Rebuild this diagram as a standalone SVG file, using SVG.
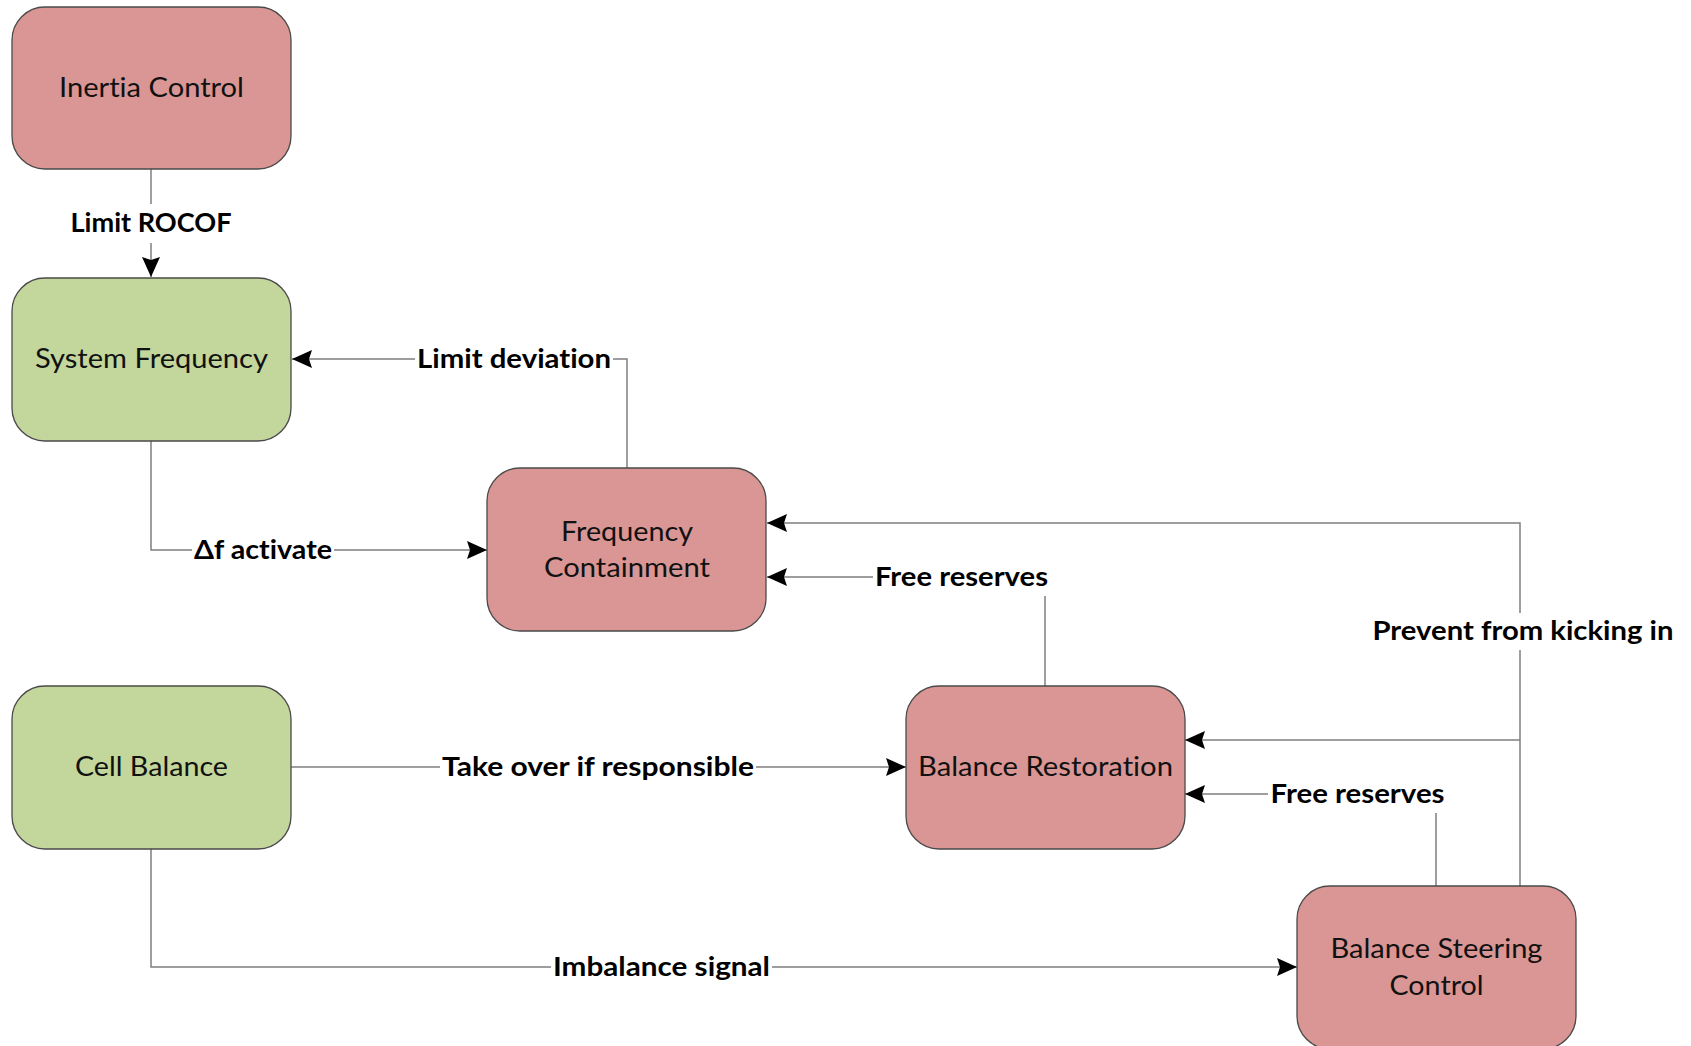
<svg xmlns="http://www.w3.org/2000/svg" width="1691" height="1046" viewBox="0 0 1691 1046">
<style>
.red{fill:#D99694;stroke:#4a4a4a;stroke-width:1.3}
.green{fill:#C3D69B;stroke:#4a4a4a;stroke-width:1.3}
.nt{font-family:Lato,"Open Sans","Liberation Sans",sans-serif;font-size:27px;fill:#111;text-anchor:middle;font-variant-ligatures:none}
.ln{fill:none;stroke:#7f7f7f;stroke-width:1.5}
.lb{font-family:Lato,"Open Sans","Liberation Sans",sans-serif;font-size:27px;font-weight:bold;fill:#000;text-anchor:middle;font-variant-ligatures:none}
.bg{fill:#fff}
</style>
<defs>
<marker id="arr" viewBox="0 0 20 18" refX="20" refY="9" markerWidth="20" markerHeight="18" markerUnits="userSpaceOnUse" orient="auto">
<path d="M0,0 L20,9 L0,18 L3,9 z" fill="#000"/>
</marker>
</defs>
<rect width="1691" height="1046" fill="#fff"/>
<g id="connectors">
<path class="ln" d="M151,169 V277" marker-end="url(#arr)"/>
<path class="ln" d="M627,468 V359 H292" marker-end="url(#arr)"/>
<path class="ln" d="M151,441 V550 H487" marker-end="url(#arr)"/>
<path class="ln" d="M1520,886 V523 H767" marker-end="url(#arr)"/>
<path class="ln" d="M1520,740 H1185" marker-end="url(#arr)"/>
<path class="ln" d="M1045,686 V577 H767" marker-end="url(#arr)"/>
<path class="ln" d="M1436,886 V794 H1185" marker-end="url(#arr)"/>
<path class="ln" d="M291,767 H906" marker-end="url(#arr)"/>
<path class="ln" d="M151,849 V967 H1297" marker-end="url(#arr)"/>
<g id="labels">
<rect class="bg" x="69" y="204" width="164" height="39"/>
<text class="lb" x="151" y="232" textLength="161" lengthAdjust="spacingAndGlyphs">Limit ROCOF</text>
<rect class="bg" x="415" y="344" width="198" height="31"/>
<text class="lb" x="514" y="368" textLength="194" lengthAdjust="spacingAndGlyphs">Limit deviation</text>
<rect class="bg" x="192" y="535" width="142" height="31"/>
<text class="lb" x="263" y="559" textLength="138" lengthAdjust="spacingAndGlyphs">Δf activate</text>
<rect class="bg" x="1370" y="613" width="306" height="37"/>
<text class="lb" x="1523" y="640" textLength="301" lengthAdjust="spacingAndGlyphs">Prevent from kicking in</text>
<rect class="bg" x="873" y="560" width="177" height="36"/>
<text class="lb" x="961.5" y="586" textLength="173" lengthAdjust="spacingAndGlyphs">Free reserves</text>
<rect class="bg" x="1268" y="777" width="179" height="36"/>
<text class="lb" x="1357.5" y="803" textLength="174" lengthAdjust="spacingAndGlyphs">Free reserves</text>
<rect class="bg" x="440" y="752" width="316" height="31"/>
<text class="lb" x="598" y="776" textLength="312" lengthAdjust="spacingAndGlyphs">Take over if responsible</text>
<rect class="bg" x="551" y="952" width="221" height="33"/>
<text class="lb" x="661.5" y="976" textLength="217" lengthAdjust="spacingAndGlyphs">Imbalance signal</text>
</g>
</g>
<g id="inertia-control">
<rect class="red" x="12" y="7" width="279" height="162" rx="33"/>
<text class="nt" x="151.5" y="97" textLength="185" lengthAdjust="spacingAndGlyphs">Inertia Control</text>
</g>
<g id="system-frequency">
<rect class="green" x="12" y="278" width="279" height="163" rx="33"/>
<text class="nt" x="151.5" y="368" textLength="233" lengthAdjust="spacingAndGlyphs">System Frequency</text>
</g>
<g id="frequency-containment">
<rect class="red" x="487" y="468" width="279" height="163" rx="33"/>
<text class="nt" x="627" y="541" textLength="132" lengthAdjust="spacingAndGlyphs">Frequency</text>
<text class="nt" x="627" y="577" textLength="166" lengthAdjust="spacingAndGlyphs">Containment</text>
</g>
<g id="cell-balance">
<rect class="green" x="12" y="686" width="279" height="163" rx="33"/>
<text class="nt" x="151.5" y="776" textLength="153" lengthAdjust="spacingAndGlyphs">Cell Balance</text>
</g>
<g id="balance-restoration">
<rect class="red" x="906" y="686" width="279" height="163" rx="33"/>
<text class="nt" x="1045.5" y="776" textLength="255" lengthAdjust="spacingAndGlyphs">Balance Restoration</text>
</g>
<g id="balance-steering-control">
<rect class="red" x="1297" y="886" width="279" height="163" rx="33"/>
<text class="nt" x="1436.5" y="958" textLength="212" lengthAdjust="spacingAndGlyphs">Balance Steering</text>
<text class="nt" x="1436.5" y="995" textLength="94" lengthAdjust="spacingAndGlyphs">Control</text>
</g>
</svg>
